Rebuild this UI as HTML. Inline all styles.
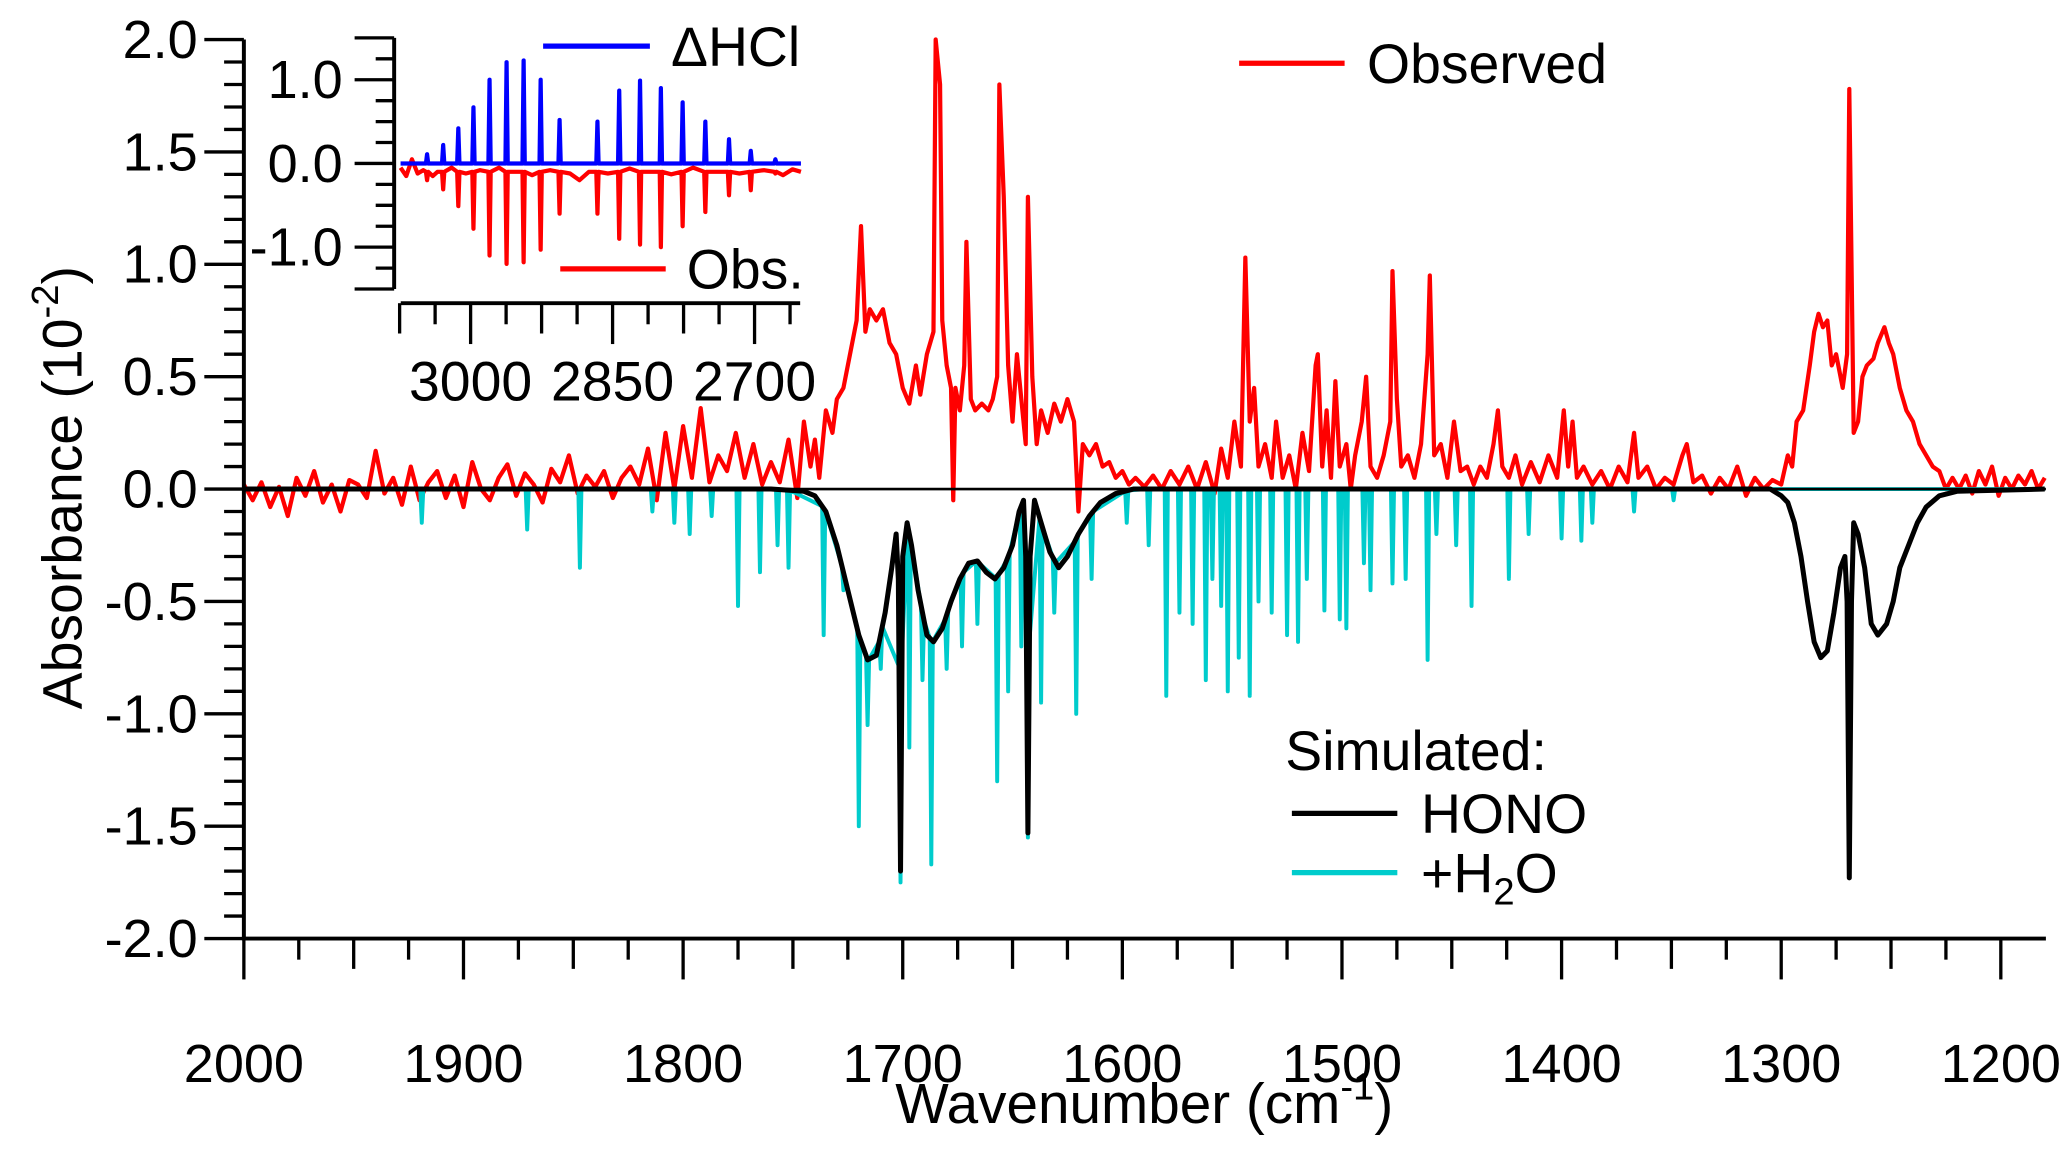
<!DOCTYPE html>
<html><head><meta charset="utf-8"><style>
html,body{margin:0;padding:0;background:#fff;}
svg{display:block;font-family:"Liberation Sans",Arial,sans-serif;}
</style></head><body>
<svg id="chart" width="2067" height="1150" viewBox="0 0 1568 872.4" preserveAspectRatio="none" xmlns="http://www.w3.org/2000/svg">
<g id="main"></g>
<g id="inset"></g>
<g id="legends">
  <line x1="940" y1="48" x2="1020" y2="48" stroke="#f00" stroke-width="4"/>
  <text x="1037" y="63" font-size="42">Observed</text>
  <text x="975" y="584" font-size="42">Simulated:</text>
  <line x1="980" y1="617" x2="1060" y2="617" stroke="#000" stroke-width="4"/>
  <text x="1078" y="632" font-size="42">HONO</text>
  <line x1="980" y1="662" x2="1060" y2="662" stroke="#00cccc" stroke-width="4"/>
  <text x="1078" y="677" font-size="42">+H<tspan font-size="29" dy="9">2</tspan><tspan dy="-9">O</tspan></text>
  <line x1="412" y1="35" x2="493" y2="35" stroke="#00f" stroke-width="4"/>
  <text x="509" y="50" font-size="42">ΔHCl</text>
  <line x1="425" y1="204" x2="505" y2="204" stroke="#f00" stroke-width="4"/>
  <text x="521" y="219" font-size="42">Obs.</text>
</g>
<text x="868" y="852" font-size="43" text-anchor="middle">Wavenumber (cm<tspan font-size="29" dy="-18">-1</tspan><tspan dy="18">)</tspan></text>
<text transform="translate(62,370) rotate(-90)" font-size="42" text-anchor="middle">Absorbance (10<tspan font-size="29" dy="-18">-2</tspan><tspan dy="18">)</tspan></text>
</svg>
<script>
// ---- main chart data ----
const xTickLabels = [2000,1900,1800,1700,1600,1500,1400,1300,1200];
const yTickLabels = [2.0,1.5,1.0,0.5,0.0,-0.5,-1.0,-1.5,-2.0];
const obsWn = [2000,1996,1992,1988,1984,1980,1976,1972,1968,1964,1960,1956,1952,1948,1944,1940,1936,1932,1928,1924,1920,1916,1912,1908,1904,1900,1896,1892,1888,1884,1880,1876,1872,1868,1864,1860,1856,1852,1848,1844,1840,1836,1832,1828,1824,1820,1816,1812,1808,1804,1800,1796,1792,1788,1784,1780,1776,1772,1768,1764,1760,1756,1752,1748,1745,1742,1740,1738,1735,1732,1730,1727,1724,1721,1719,1717,1715,1712,1709,1706,1703,1700,1697,1694,1692,1689,1686,1685,1683,1682,1680,1678,1677,1676,1674,1672,1671,1669,1667,1664,1661,1659,1657,1656,1654,1652,1650,1648,1646,1644,1643,1641,1639,1637,1634,1631,1628,1625,1622,1620,1618,1615,1612,1609,1606,1603,1600,1597,1594,1590,1586,1582,1578,1574,1570,1566,1562,1558,1555,1552,1549,1546,1544,1542,1540,1538,1535,1532,1530,1527,1524,1521,1518,1515,1512,1511,1509,1507,1505,1503,1501,1498,1496,1494,1491,1489,1487,1484,1481,1478,1477,1475,1473,1470,1467,1464,1461,1460,1458,1455,1452,1449,1446,1443,1440,1437,1434,1431,1429,1427,1424,1421,1418,1414,1410,1406,1402,1399,1397,1395,1393,1390,1386,1382,1378,1374,1370,1367,1365,1361,1357,1353,1349,1345,1343,1340,1336,1332,1328,1324,1320,1316,1312,1308,1304,1300,1297,1295,1293,1290,1287,1285,1283,1281,1279,1277,1275,1272,1270,1269,1267,1265,1263,1261,1258,1256,1253,1251,1249,1246,1243,1240,1237,1234,1231,1228,1225,1222,1219,1216,1213,1210,1207,1204,1201,1198,1195,1192,1189,1186,1183,1180];
const obsVal = [0.02,-0.05,0.03,-0.08,0.01,-0.12,0.05,-0.03,0.08,-0.06,0.02,-0.1,0.04,0.02,-0.04,0.17,-0.02,0.05,-0.07,0.1,-0.05,0.03,0.08,-0.04,0.06,-0.08,0.12,0.0,-0.05,0.05,0.11,-0.03,0.07,0.02,-0.06,0.09,0.03,0.15,-0.02,0.06,0.01,0.08,-0.04,0.05,0.1,0.02,0.18,-0.05,0.25,0.0,0.28,0.05,0.36,0.03,0.15,0.08,0.25,0.05,0.2,0.02,0.12,0.03,0.22,-0.04,0.3,0.1,0.22,0.05,0.35,0.25,0.4,0.45,0.6,0.75,1.17,0.7,0.8,0.75,0.8,0.65,0.6,0.45,0.38,0.55,0.42,0.6,0.7,2.0,1.8,0.75,0.55,0.45,-0.05,0.45,0.35,0.55,1.1,0.4,0.35,0.38,0.35,0.4,0.5,1.8,1.3,0.55,0.3,0.6,0.4,0.2,1.3,0.5,0.2,0.35,0.25,0.38,0.3,0.4,0.3,-0.1,0.2,0.15,0.2,0.1,0.12,0.05,0.08,0.02,0.05,0.01,0.06,0.0,0.08,0.02,0.1,0.0,0.12,-0.02,0.18,0.05,0.3,0.1,1.03,0.3,0.45,0.1,0.2,0.05,0.3,0.05,0.15,0.0,0.25,0.08,0.55,0.6,0.1,0.35,0.05,0.48,0.1,0.2,0.0,0.15,0.3,0.5,0.1,0.05,0.15,0.3,0.97,0.4,0.1,0.15,0.05,0.2,0.6,0.95,0.15,0.2,0.05,0.3,0.08,0.1,0.02,0.1,0.05,0.2,0.35,0.1,0.05,0.15,0.02,0.12,0.03,0.15,0.05,0.35,0.1,0.3,0.05,0.1,0.02,0.08,0.0,0.1,0.03,0.25,0.05,0.1,0.0,0.05,0.02,0.15,0.2,0.03,0.06,-0.02,0.05,0.0,0.1,-0.03,0.05,0.0,0.04,0.02,0.15,0.1,0.3,0.35,0.55,0.7,0.78,0.72,0.75,0.55,0.6,0.45,0.6,1.78,0.25,0.3,0.5,0.55,0.58,0.65,0.72,0.65,0.6,0.45,0.35,0.3,0.2,0.15,0.1,0.08,0.0,0.05,0.0,0.06,-0.02,0.08,0.02,0.1,-0.03,0.05,0.0,0.06,0.02,0.08,0.0,0.05];
const honoWn = [2000,1760,1745,1740,1735,1730,1725,1720,1716,1712,1708,1705,1703,1702,1701,1700,1698,1696,1693,1689,1686,1682,1678,1674,1670,1666,1662,1658,1654,1650,1647,1645,1644,1643,1642,1640,1637,1633,1629,1625,1620,1615,1610,1603,1595,1305,1300,1297,1294,1291,1288,1285,1282,1279,1276,1273,1271,1270,1269,1268,1267,1265,1262,1259,1256,1252,1249,1246,1242,1238,1234,1228,1220,1180];
const honoVal = [0,0,-0.01,-0.03,-0.1,-0.25,-0.45,-0.65,-0.76,-0.74,-0.55,-0.35,-0.2,-0.4,-1.7,-0.3,-0.15,-0.25,-0.45,-0.65,-0.68,-0.62,-0.5,-0.4,-0.33,-0.32,-0.37,-0.4,-0.35,-0.25,-0.1,-0.05,-0.3,-1.53,-0.3,-0.05,-0.15,-0.28,-0.35,-0.3,-0.2,-0.12,-0.06,-0.02,0,0,-0.03,-0.06,-0.15,-0.3,-0.5,-0.68,-0.75,-0.72,-0.55,-0.35,-0.3,-0.5,-1.73,-0.5,-0.15,-0.2,-0.35,-0.6,-0.65,-0.6,-0.5,-0.35,-0.25,-0.15,-0.08,-0.03,-0.01,0];
const h2oWn = [1919,1871,1847,1814,1804,1797,1787,1775,1765,1757,1752,1736,1727,1720,1716,1710,1701,1697,1691,1687,1680,1673,1666,1657,1652,1646,1643,1637,1631,1621,1614,1598,1588,1580,1574,1568,1562,1559,1555,1552,1547,1542,1538,1532,1525,1520,1516,1508,1501,1498,1490,1487,1477,1471,1461,1457,1448,1441,1424,1415,1400,1391,1386,1367,1349];
const h2oVal = [-0.15,-0.18,-0.35,-0.1,-0.15,-0.2,-0.12,-0.52,-0.37,-0.25,-0.35,-0.65,-0.45,-1.5,-1.05,-0.8,-1.75,-1.15,-0.85,-1.67,-0.8,-0.7,-0.6,-1.3,-0.9,-0.7,-1.55,-0.95,-0.55,-1.0,-0.4,-0.15,-0.25,-0.92,-0.55,-0.6,-0.85,-0.4,-0.52,-0.9,-0.75,-0.92,-0.5,-0.55,-0.65,-0.68,-0.4,-0.54,-0.58,-0.62,-0.33,-0.45,-0.42,-0.4,-0.76,-0.2,-0.25,-0.52,-0.4,-0.2,-0.22,-0.23,-0.15,-0.1,-0.05];
// ---- inset data ----
const insetXTickLabels = [3000,2850,2700];
const insetYTickLabels = [1.0,0.0,-1.0];
const hclWn = [3046,3029,3013,2997,2980,2962,2944,2926,2906,2866,2843,2821,2799,2776,2752,2727,2704,2678];
const hclVal = [0.11,0.22,0.42,0.67,1.0,1.21,1.23,1.0,0.52,0.5,0.87,0.99,0.9,0.73,0.5,0.29,0.15,0.05];
const obsHclVal = [-0.2,-0.31,-0.51,-0.78,-1.1,-1.2,-1.18,-1.03,-0.6,-0.6,-0.9,-0.97,-1.0,-0.75,-0.58,-0.38,-0.32,-0.12];
const obsBaseWn = [3074,3068,3062,3056,3050,3040,3035,3020,3005,2990,2970,2952,2935,2916,2895,2885,2875,2855,2832,2810,2788,2765,2740,2716,2690,2670,2660,2651];
const obsBaseVal = [-0.05,-0.15,0.05,-0.12,-0.08,-0.15,-0.1,-0.05,-0.12,-0.08,-0.05,-0.1,-0.14,-0.08,-0.12,-0.2,-0.1,-0.12,-0.06,-0.1,-0.13,-0.05,-0.1,-0.12,-0.08,-0.14,-0.07,-0.1];

const NS = "http://www.w3.org/2000/svg";
function mk(parent, tag, attrs) {
  const e = document.createElementNS(NS, tag);
  for (const k in attrs) e.setAttribute(k, attrs[k]);
  parent.appendChild(e);
  return e;
}
const X0 = 185, PX = 1.666, Y0 = 371, PY = 170.5;
const xMain = wn => X0 + (2000 - wn) * PX;
const yMain = v => Y0 - v * PY;
const main = document.getElementById('main');

function poly(parent, wns, vals, xf, yf, color, w) {
  const pts = wns.map((wn, i) => xf(wn).toFixed(2) + ',' + yf(vals[i]).toFixed(2)).join(' ');
  return mk(parent, 'polyline', {points: pts, fill: 'none', stroke: color, 'stroke-width': w, 'stroke-linejoin': 'round'});
}
function honoAt(wn) {
  for (let i = 0; i < honoWn.length - 1; i++) {
    if (wn <= honoWn[i] && wn >= honoWn[i + 1]) {
      const t = (honoWn[i] - wn) / (honoWn[i] - honoWn[i + 1] || 1);
      return honoVal[i] + t * (honoVal[i + 1] - honoVal[i]);
    }
  }
  return 0;
}
const cyWn = [2000], cyVal = [0];
h2oWn.forEach((wn, i) => {
  cyWn.push(wn + 0.7); cyVal.push(honoAt(wn + 0.7));
  cyWn.push(wn); cyVal.push(Math.min(h2oVal[i], honoAt(wn)));
  cyWn.push(wn - 0.7); cyVal.push(honoAt(wn - 0.7));
});
cyWn.push(1180); cyVal.push(0);

const obsLine = poly(main, obsWn, obsVal, xMain, yMain, '#f00', 3.2);


const cyLine = poly(main, cyWn, cyVal, xMain, yMain, '#00cccc', 3);


const zl = mk(main, 'line', {x1: X0, x2: 1552, y1: yMain(0), y2: yMain(0), stroke: '#000', 'stroke-width': 2});


const hoLine = poly(main, honoWn, honoVal, xMain, yMain, '#000', 3.8);



const yAx = mk(main, 'line', {x1: X0, x2: X0, y1: yMain(2), y2: yMain(-2), stroke: '#000', 'stroke-width': 3});


const xAx = mk(main, 'line', {x1: X0 - 1.5, x2: 1552, y1: yMain(-2), y2: yMain(-2), stroke: '#000', 'stroke-width': 3});


for (let k = 0; k <= 40; k++) {
  const v = 2 - k * 0.1;
  const major = k % 5 === 0;
  mk(main, 'line', {x1: X0 - (major ? 30 : 15), x2: X0, y1: yMain(v), y2: yMain(v), stroke: '#000', 'stroke-width': 2.5});
}
yTickLabels.forEach(v => {
  const t = mk(main, 'text', {x: 150, y: yMain(v) + 14, 'font-size': 41, 'text-anchor': 'end'});
  t.textContent = v.toFixed(1);
  
  
});
for (let wn = 2000; wn >= 1180; wn -= 25) {
  const len = wn % 100 === 0 ? 31 : (wn % 50 === 0 ? 23 : 16);
  mk(main, 'line', {x1: xMain(wn), x2: xMain(wn), y1: yMain(-2), y2: yMain(-2) + len, stroke: '#000', 'stroke-width': 2.5});
}
xTickLabels.forEach(wn => {
  const t = mk(main, 'text', {x: xMain(wn), y: 821, 'font-size': 41, 'text-anchor': 'middle'});
  t.textContent = wn;
  
  
});

// inset
const inset = document.getElementById('inset');
const IX0 = 357, IPX = 0.718, IY0 = 124, IPY = 63.5;
const xIn = wn => IX0 + (3000 - wn) * IPX;
const yIn = v => IY0 - v * IPY;
const rWn = [], rVal = [];
const allWn = obsBaseWn.map((w, i) => [w, obsBaseVal[i]]);
hclWn.forEach((w, i) => { allWn.push([w + 1.2, -0.1]); allWn.push([w, obsHclVal[i]]); allWn.push([w - 1.2, -0.1]); });
allWn.sort((a, b) => b[0] - a[0]).forEach(p => { rWn.push(p[0]); rVal.push(p[1]); });
const insRed = poly(inset, rWn, rVal, xIn, yIn, '#f00', 3.2);


const bWn = [3074], bVal = [0];
hclWn.forEach((w, i) => { bWn.push(w + 1.2); bVal.push(0); bWn.push(w); bVal.push(hclVal[i]); bWn.push(w - 1.2); bVal.push(0); });
bWn.push(2651); bVal.push(0);
const insBlue = poly(inset, bWn, bVal, xIn, yIn, '#00f', 3.2);


const iyAx = mk(inset, 'line', {x1: 299, x2: 299, y1: yIn(1.5), y2: yIn(-1.5), stroke: '#000', 'stroke-width': 3});


for (let k = 0; k <= 12; k++) {
  const v = 1.5 - k * 0.25;
  const major = Math.abs(v - Math.round(v)) < 1e-6 || Math.abs(v - 1.5) < 1e-6 || Math.abs(v + 1.5) < 1e-6;
  mk(inset, 'line', {x1: 299 - (major ? 30 : 14), x2: 299, y1: yIn(v), y2: yIn(v), stroke: '#000', 'stroke-width': 2.5});
}
insetYTickLabels.forEach(v => {
  const t = mk(inset, 'text', {x: 260, y: yIn(v) + 14, 'font-size': 41, 'text-anchor': 'end'});
  t.textContent = v.toFixed(1);
  
  
});
const ixAx = mk(inset, 'line', {x1: 304, x2: 607, y1: 230, y2: 230, stroke: '#000', 'stroke-width': 3});


for (let k = -2; k <= 9; k++) {
  const wn = 3000 - k * 37.5;
  const len = k % 4 === 0 ? 31 : (k % 2 === 0 ? 23 : 16);
  mk(inset, 'line', {x1: xIn(wn), x2: xIn(wn), y1: 230, y2: 230 + len, stroke: '#000', 'stroke-width': 2.5});
}
insetXTickLabels.forEach(wn => {
  const t = mk(inset, 'text', {x: xIn(wn), y: 304, 'font-size': 42, 'text-anchor': 'middle'});
  t.textContent = wn;
  
  
});
</script>
</body></html>
